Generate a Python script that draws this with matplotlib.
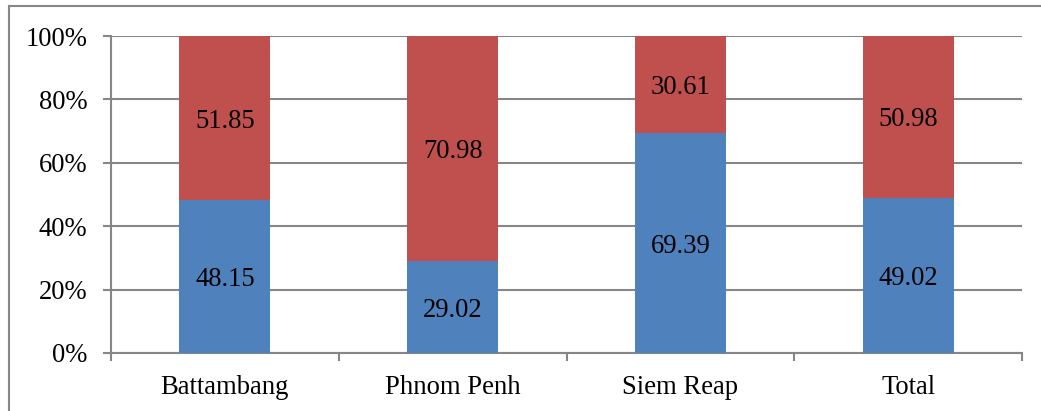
import matplotlib.pyplot as plt
import matplotlib.patches as mpatches
import numpy as np

plt.rcParams['font.family'] = ['Liberation Serif', 'DejaVu Serif']

# data
categories = ['Battambang', 'Phnom Penh', 'Siem Reap', 'Total']
blue_vals = [48.15, 29.02, 69.39, 49.02]
red_vals = [51.85, 70.98, 30.61, 50.98]

blue = '#4F81BD'
red = '#C0504D'
gray = '#868686'
fs = 19.2

fig = plt.figure(figsize=(10.41, 4.11), dpi=100)
ax = fig.add_axes([111 / 1041, 1 - 353 / 411, (1022 - 111) / 1041, (353 - 36) / 411])

x = np.arange(len(categories))
ax.bar(x, blue_vals, width=0.4, color=blue, zorder=3)
ax.bar(x, red_vals, width=0.4, bottom=blue_vals, color=red, zorder=3)

for i in range(len(categories)):
    ax.text(x[i], blue_vals[i] / 2, f'{blue_vals[i]:.2f}', ha='center',
            va='center_baseline', fontsize=fs, zorder=4)
    ax.text(x[i], blue_vals[i] + red_vals[i] / 2, f'{red_vals[i]:.2f}', ha='center',
            va='center_baseline', fontsize=fs, zorder=4)

ax.set_xlim(-0.5, len(categories) - 0.5)
ax.set_ylim(0, 100)
ax.set_yticks(np.arange(0, 101, 20))
ax.set_yticklabels([f'{v}%' for v in range(0, 101, 20)], fontsize=fs)
ax.yaxis.grid(True, color=gray, linewidth=1.5, zorder=0)

# category labels centred, tick marks at the boundaries
ax.set_xticks(np.arange(-0.5, len(categories), 1.0))
ax.set_xticklabels([])
ax.set_xticks(x, minor=True)
ax.set_xticklabels(categories, minor=True, fontsize=fs)
ax.tick_params(axis='x', which='minor', length=0, pad=16)
ax.tick_params(axis='x', which='major', length=6, width=1.5, color=gray)
ax.tick_params(axis='y', length=6, width=1.5, color=gray, pad=11)

for s in ['top', 'right']:
    ax.spines[s].set_visible(False)
for s in ['left', 'bottom']:
    ax.spines[s].set_color(gray)
    ax.spines[s].set_linewidth(1.5)

# outer frame (left and top edges visible)
fig.patches.append(mpatches.Rectangle((9 / 1041, -0.1), 1.2, 1 - 6.5 / 411 + 0.1,
                                      transform=fig.transFigure, fill=False,
                                      edgecolor=gray, linewidth=1.5))

fig.savefig('out.png', dpi=100)
